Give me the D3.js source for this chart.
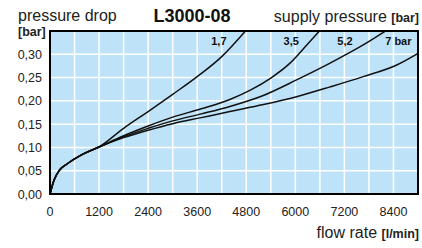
<!DOCTYPE html>
<html>
<head>
<meta charset="utf-8">
<script src="https://cdnjs.cloudflare.com/ajax/libs/d3/7.8.5/d3.min.js"></script>
<style>
    html, body { margin: 0; padding: 0; background: #fff; }
    svg { display: block; font-family: "Liberation Sans", Arial, sans-serif; }
</style>
</head>
<body>
<svg id="chart"></svg>
<script>

var width = 422,
    height = 248;

// x ticks (l/min) and y ticks (bar)
var xTicks = [0, 1200, 2400, 3600, 4800, 6000, 7200, 8400];
var yTicks = [0, 0.05, 0.10, 0.15, 0.20, 0.25, 0.30];

// supply pressure labels
var pressures = ["1,7", "3,5", "5,2", "7 bar"];

// shared start of every curve
var start = [[0, 0], [100, 0.030], [240, 0.052], [440, 0.066], [770, 0.084], [1200, 0.101]];

var curve17 = [[1800, 0.141], [2400, 0.177], [3000, 0.214], [3600, 0.252], [4200, 0.295], [4800, 0.352]];
var curve35 = [[1800, 0.125], [2400, 0.146], [3000, 0.165], [3700, 0.183], [4400, 0.203], [4900, 0.223], [5400, 0.249], [5870, 0.281], [6280, 0.320], [6610, 0.352]];
var curve52 = [[1800, 0.123], [2400, 0.141], [3000, 0.157], [3700, 0.172], [4400, 0.188], [5200, 0.211], [6030, 0.245], [6850, 0.281], [7660, 0.320], [8240, 0.352]];
var curve7  = [[1800, 0.121], [2400, 0.137], [3000, 0.151], [3700, 0.164], [4400, 0.177], [5220, 0.192], [6030, 0.209], [6850, 0.230], [7660, 0.252], [8480, 0.277], [9000, 0.302]];

var series = [curve17, curve35, curve52, curve7].map(function(c) { return start.concat(c); });

var svg = d3.select('#chart')
    .attr('width', width)
    .attr('height', height);

var x = d3.scaleLinear().domain([0, 9000]).range([50, 418]);
var y = d3.scaleLinear().domain([0, 0.35]).range([194, 31]);

// plot background
svg.append('rect')
    .attr('x', x(0)).attr('y', y(0.35))
    .attr('width', x(9000) - x(0)).attr('height', y(0) - y(0.35))
    .attr('fill', '#bee3f8');

// grid
svg.append('g').selectAll('line')
    .data(d3.range(600, 9000, 600))
    .join('line')
    .attr('x1', function(d) { return x(d); }).attr('x2', function(d) { return x(d); })
    .attr('y1', y(0)).attr('y2', y(0.35))
    .attr('stroke', '#fff').attr('stroke-width', 1.5);

svg.append('g').selectAll('line')
    .data(yTicks.slice(1))
    .join('line')
    .attr('x1', x(0)).attr('x2', x(9000))
    .attr('y1', function(d) { return y(d); }).attr('y2', function(d) { return y(d); })
    .attr('stroke', '#fff').attr('stroke-width', 1.5);

// curves
svg.append('clipPath').attr('id', 'plot')
    .append('rect')
    .attr('x', x(0)).attr('y', y(0.35))
    .attr('width', x(9000) - x(0)).attr('height', y(0) - y(0.35));

var line = d3.line()
    .x(function(d) { return x(d[0]); })
    .y(function(d) { return y(d[1]); })
    .curve(d3.curveMonotoneX);

svg.append('g').attr('clip-path', 'url(#plot)')
    .selectAll('path')
    .data(series)
    .join('path')
    .attr('d', line)
    .attr('fill', 'none')
    .attr('stroke', '#111')
    .attr('stroke-width', 1.5);

// frame
svg.append('rect')
    .attr('x', x(0)).attr('y', y(0.35))
    .attr('width', x(9000) - x(0)).attr('height', y(0) - y(0.35))
    .attr('fill', 'none').attr('stroke', '#000').attr('stroke-width', 2);

// curve labels
var labelX = [4130, 5900, 7215, 8520];
svg.append('g').selectAll('text')
    .data(pressures)
    .join('text')
    .attr('x', function(d, i) { return x(labelX[i]); })
    .attr('y', 45)
    .attr('text-anchor', 'middle')
    .attr('font-size', 11)
    .attr('font-weight', 'bold')
    .attr('fill', '#111')
    .text(function(d) { return d; });

// tick labels
var fmt = function(d) { return d3.format('.2f')(d).replace('.', ','); };

svg.append('g').selectAll('text')
    .data(yTicks)
    .join('text')
    .attr('x', 42)
    .attr('y', function(d) { return y(d) + 4.5; })
    .attr('text-anchor', 'end')
    .attr('font-size', 12.5)
    .attr('fill', '#222')
    .text(fmt);

svg.append('g').selectAll('text')
    .data(xTicks)
    .join('text')
    .attr('x', function(d) { return x(d); })
    .attr('y', 216)
    .attr('text-anchor', 'middle')
    .attr('font-size', 12.5)
    .attr('fill', '#222')
    .text(function(d) { return d; });

// titles
svg.append('text')
    .attr('x', 18).attr('y', 21)
    .attr('font-size', 16)
    .attr('fill', '#222')
    .text('pressure drop');

svg.append('text')
    .attr('x', 18).attr('y', 36)
    .attr('font-size', 12.5)
    .attr('font-weight', 'bold')
    .attr('fill', '#222')
    .text('[bar]');

svg.append('text')
    .attr('x', 192).attr('y', 22)
    .attr('text-anchor', 'middle')
    .attr('font-size', 18)
    .attr('font-weight', 'bold')
    .attr('fill', '#111')
    .text('L3000-08');

var sp = svg.append('text')
    .attr('x', 419).attr('y', 22)
    .attr('text-anchor', 'end')
    .attr('font-size', 16)
    .attr('fill', '#222');
sp.append('tspan').text('supply pressure ');
sp.append('tspan').attr('font-weight', 'bold').attr('font-size', 12.5).text('[bar]');

var fr = svg.append('text')
    .attr('x', 419).attr('y', 238)
    .attr('text-anchor', 'end')
    .attr('font-size', 16)
    .attr('fill', '#222');
fr.append('tspan').text('flow rate ');
fr.append('tspan').attr('font-weight', 'bold').attr('font-size', 12.5).text('[l/min]');

</script>
</body>
</html>
